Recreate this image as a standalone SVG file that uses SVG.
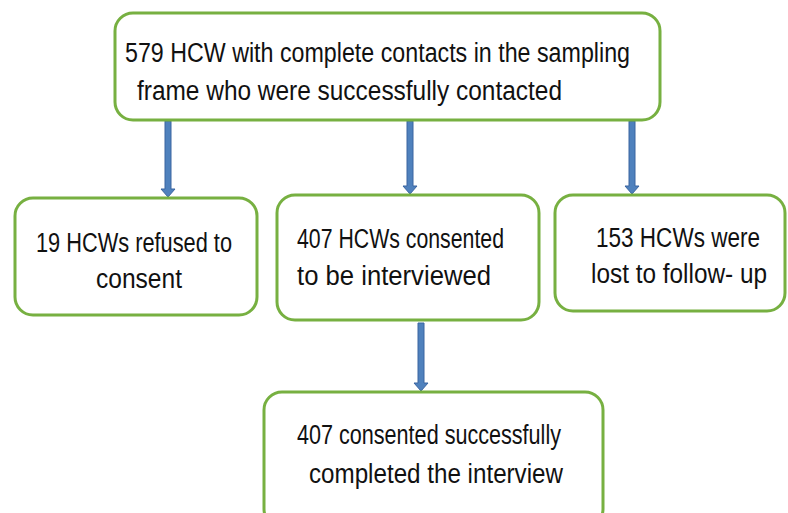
<svg xmlns="http://www.w3.org/2000/svg" width="788" height="513" viewBox="0 0 788 513">
<style>
.box{fill:#fff;stroke:#77b041;stroke-width:3}
.t{font-family:"Liberation Sans","Noto Sans",sans-serif;font-size:27px;fill:#111}
.arr{fill:#4f81bd;stroke:#3a64a0;stroke-width:1}
</style>
<rect width="788" height="513" fill="#fff"/>
<g id="connectors">
<path class="arr" d="M165,121 L171,121 L171,189 L175,189 L168,197 L161,189 L165,189 Z"/>
<path class="arr" d="M407,121 L413,121 L413,186 L417,186 L410,194 L403,186 L407,186 Z"/>
<path class="arr" d="M629,121 L635,121 L635,186 L639,186 L632,194 L625,186 L629,186 Z"/>
<path class="arr" d="M418,323 L424,323 L424,383 L428,383 L421,391 L414,383 L418,383 Z"/>
</g>
<g id="top">
<rect class="box" x="115" y="13" width="545" height="107" rx="18"/>
<text class="t" x="125" y="62" textLength="505" lengthAdjust="spacingAndGlyphs">579 HCW with complete contacts in the sampling</text>
<text class="t" x="137" y="100" textLength="425" lengthAdjust="spacingAndGlyphs">frame who were successfully contacted</text>
</g>
<g id="refused">
<rect class="box" x="15" y="198" width="242" height="117" rx="18"/>
<text class="t" x="36" y="252" textLength="196" lengthAdjust="spacingAndGlyphs">19 HCWs refused to</text>
<text class="t" x="96" y="288" textLength="86" lengthAdjust="spacingAndGlyphs">consent</text>
</g>
<g id="consented">
<rect class="box" x="277" y="195" width="262" height="125" rx="18"/>
<text class="t" x="297" y="248" textLength="207" lengthAdjust="spacingAndGlyphs">407 HCWs consented</text>
<text class="t" x="297" y="285" textLength="194" lengthAdjust="spacingAndGlyphs">to be interviewed</text>
</g>
<g id="lost">
<rect class="box" x="555" y="195" width="230" height="116" rx="18"/>
<text class="t" x="596" y="247" textLength="164" lengthAdjust="spacingAndGlyphs">153 HCWs were</text>
<text class="t" x="591" y="283" textLength="176" lengthAdjust="spacingAndGlyphs">lost to follow- up</text>
</g>
<g id="completed">
<rect class="box" x="264" y="392" width="339" height="135" rx="18"/>
<text class="t" x="297" y="444" textLength="264" lengthAdjust="spacingAndGlyphs">407 consented successfully</text>
<text class="t" x="309" y="483" textLength="254" lengthAdjust="spacingAndGlyphs">completed the interview</text>
</g>
</svg>
